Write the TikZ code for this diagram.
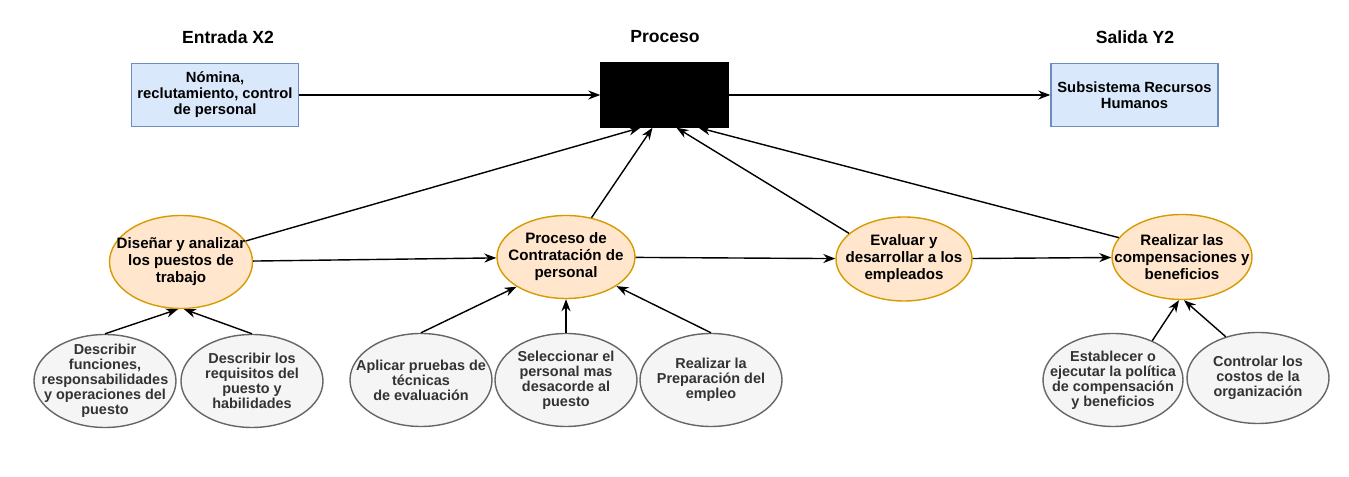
\documentclass[tikz,border=0pt]{standalone}
\usepackage{fontspec}
\setmainfont{Liberation Sans}
\usetikzlibrary{shapes.geometric, arrows.meta}

\definecolor{bluefill}{HTML}{DAE8FC}
\definecolor{blueline}{HTML}{6C8EBF}
\definecolor{orangefill}{HTML}{FFE6CC}
\definecolor{orangeline}{HTML}{D79B00}
\definecolor{grayfill}{HTML}{F5F5F5}
\definecolor{grayline}{HTML}{666666}
\definecolor{graytext}{HTML}{333333}

\begin{document}
\begin{tikzpicture}[>={Stealth[length=2.4mm,width=1.8mm]}, thick,
    title/.style={font=\bfseries\fontsize{10}{12}\selectfont},
    iobox/.style={draw=blueline, fill=bluefill, minimum width=3.34cm, minimum height=1.26cm,
                  inner sep=0pt, align=center, font=\bfseries\fontsize{8.4}{9.1}\selectfont},
    task/.style={ellipse, draw=orangeline, fill=orangefill, inner xsep=-6mm, inner ysep=-5mm,
                 minimum width=2.8cm, minimum height=1.7cm, align=center,
                 font=\bfseries\fontsize{8.6}{9.7}\selectfont},
    sub/.style={ellipse, draw=grayline, fill=grayfill, text=graytext, inner xsep=-6mm, inner ysep=-5mm,
                minimum width=2.84cm, minimum height=1.86cm, align=center,
                font=\bfseries\fontsize{8.2}{8.6}\selectfont}]

    \useasboundingbox (0,0) rectangle (26.98,-9.54);

    \node [title] (tin) at (4.56 , -0.74) {Entrada X2};
    \node [title] (tpr) at (13.30 , -0.74) {Proceso};
    \node [title] (tout) at (22.70 , -0.74) {Salida Y2};

    \node [iobox] (in) at (4.30 , -1.90) {Nómina,\\reclutamiento, control\\de personal};
    \node [draw, fill=black, minimum width=2.54cm, minimum height=1.28cm] (blk) at (13.29 , -1.90) {};
    \node [iobox] (out) at (22.69 , -1.90) {Subsistema Recursos\\Humanos};

    \node [task, minimum width=2.86cm, minimum height=1.86cm] (e1) at (3.62 , -5.24) {Diseñar y analizar\\los puestos de\\trabajo};
    \node [task, minimum width=2.76cm, minimum height=1.66cm] (e2) at (11.32 , -5.14) {Proceso de\\Contratación de\\personal};
    \node [task, minimum width=2.72cm, minimum height=1.68cm] (e3) at (18.08 , -5.18) {Evaluar y\\desarrollar a los\\empleados};
    \node [task] (e4) at (23.64 , -5.14) {Realizar las\\compensaciones y\\beneficios};

    \node [sub] (g1) at (2.10 , -7.62) {Describir\\funciones,\\responsabilidades\\y operaciones del\\puesto};
    \node [sub] (g2) at (5.04 , -7.62) {Describir los\\requisitos del\\puesto y\\habilidades};
    \node [sub] (g3) at (8.42 , -7.60) {Aplicar pruebas de\\técnicas\\de evaluación};
    \node [sub] (g4) at (11.32 , -7.60) {Seleccionar el\\personal mas\\desacorde al\\puesto};
    \node [sub] (g5) at (14.22 , -7.60) {Realizar la\\Preparación del\\empleo};
    \node [sub, minimum width=2.80cm] (g6) at (22.26 , -7.60) {Establecer o\\ejecutar la política\\de compensación\\y beneficios};
    \node [sub, minimum height=1.82cm] (g7) at (25.16 , -7.56) {Controlar los\\costos de la\\organización};

 \path[->]
      (in) edge (blk)
      (blk) edge (out)
      (e1) edge (e2)
      (e2) edge (e3)
      (e3) edge (e4)
      (e1.18) edge ([xshift=-4.8mm]blk.south)
      (e2.57) edge ([xshift=-2.4mm]blk.south)
      (e3.155) edge ([xshift=2.4mm]blk.south)
      (e4.163) edge ([xshift=6.8mm]blk.south)
      (g1.north) edge ([xshift=-0.6mm]e1.south)
      (g2.north) edge ([xshift=0.6mm]e1.south)
      (g3.north) edge (e2.211)
      (g4.north) edge (e2.south)
      (g5.north) edge (e2.-30)
      (g6.45) edge ([xshift=-0.6mm]e4.south)
      (g7.128) edge ([xshift=0.4mm]e4.south);
\end{tikzpicture}
\end{document}
